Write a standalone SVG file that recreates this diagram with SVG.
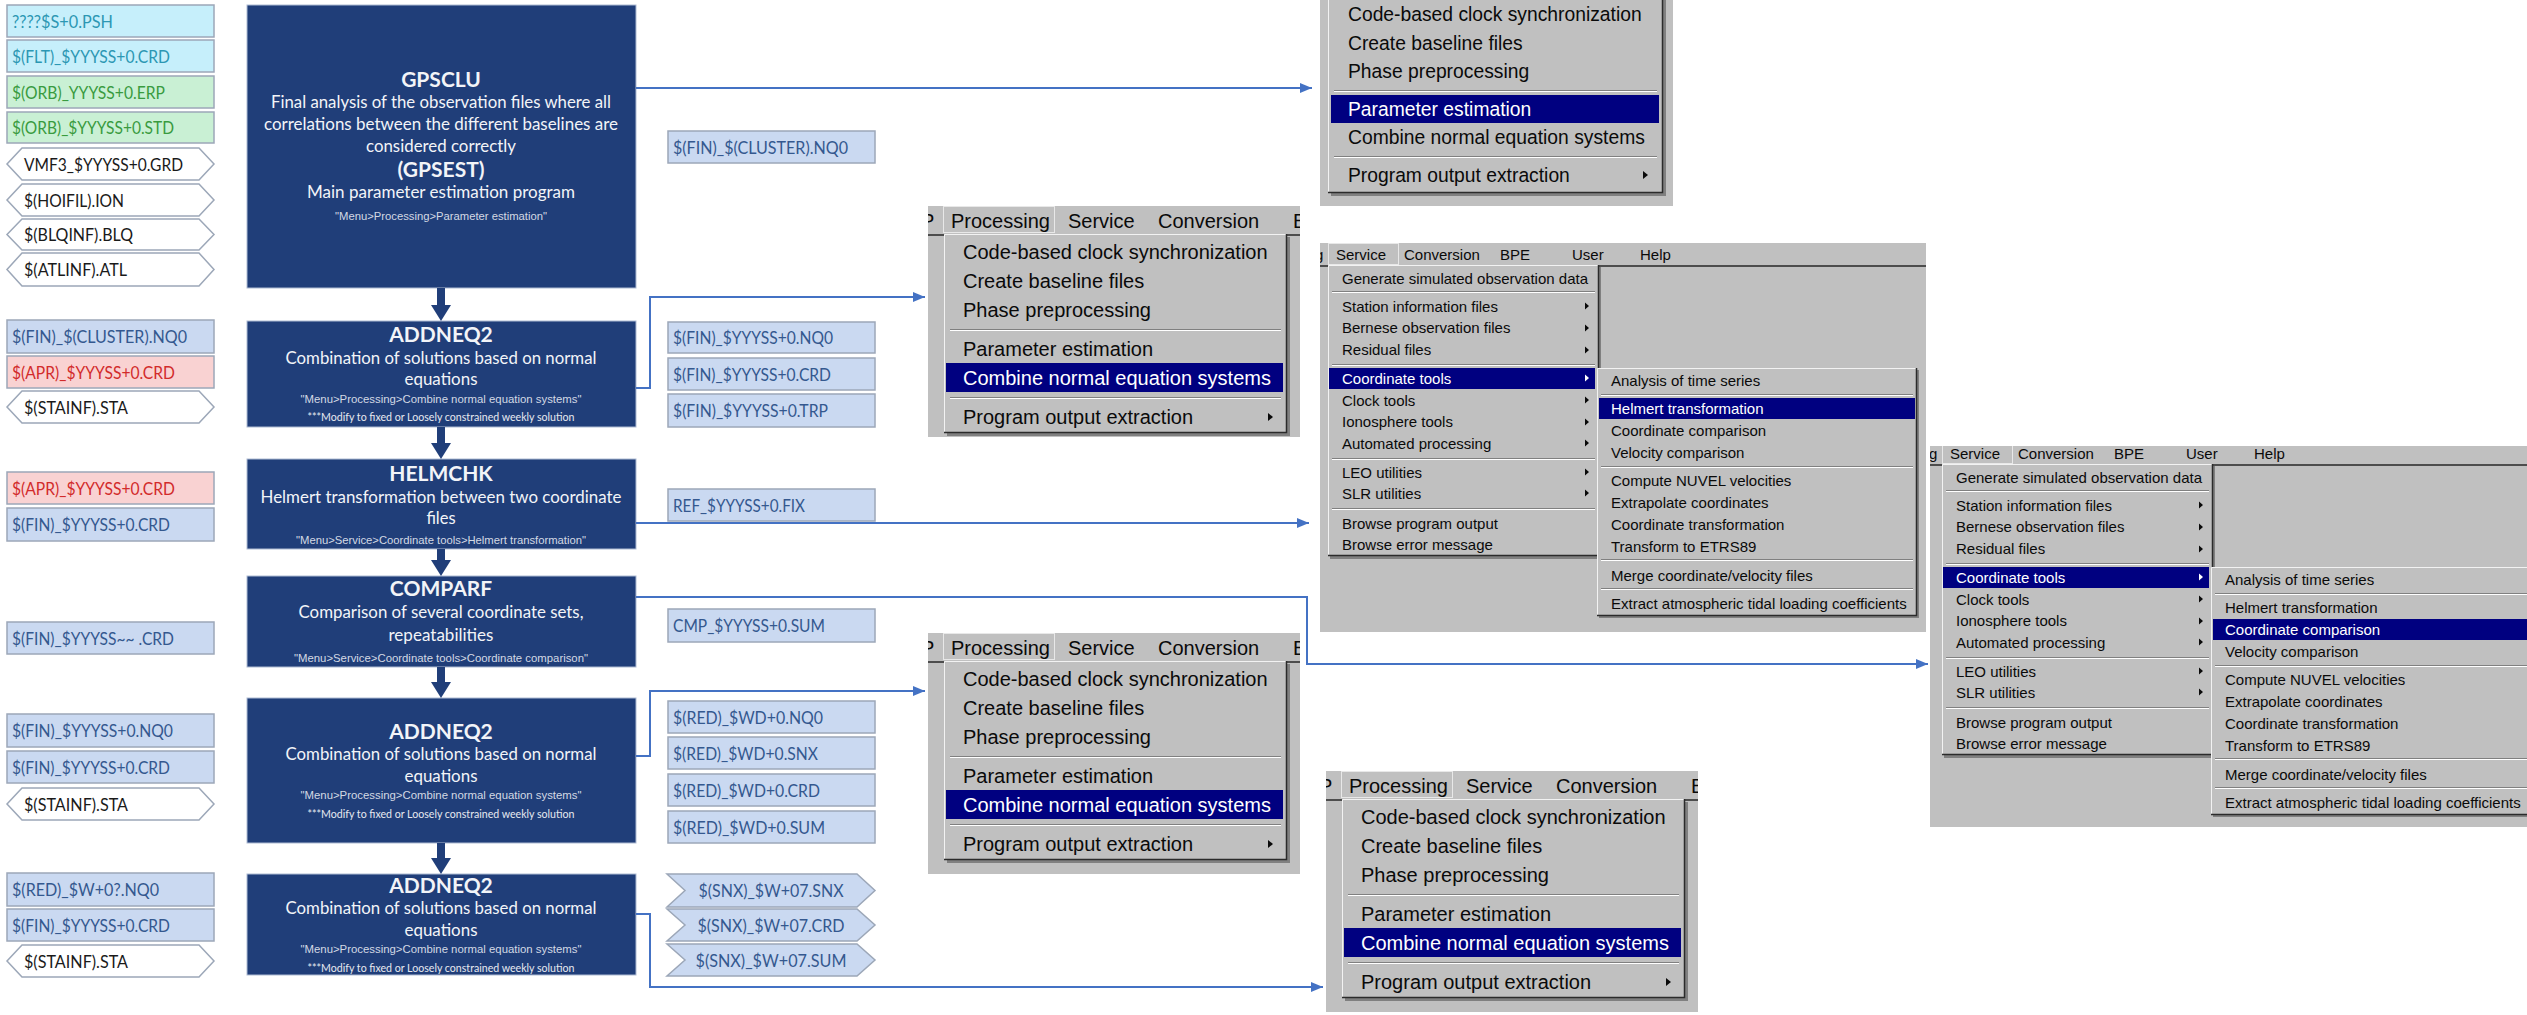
<svg xmlns="http://www.w3.org/2000/svg" width="2527" height="1015" viewBox="0 0 2527 1015">
<defs>
  <style>
    .lbl{font-family:Lato,"Liberation Sans",sans-serif;font-size:18px}
    .fb{stroke:#9CA7B8;stroke-width:1.5}
    .cy{fill:#C6EFFB}.cyt{fill:#2C97B3}
    .gr{fill:#C9F0D4}.grt{fill:#399B3F}
    .pk{fill:#F9D2D2}.pkt{fill:#D22B2B}
    .bl{fill:#CAD9F1}.blt{fill:#34588F}
    .wh{fill:#FFFFFF}.wht{fill:#1A1A1A}
    .step{fill:#203E79;stroke:#AEBBD3;stroke-width:1}
    .stx{font-family:Lato,"Liberation Sans",sans-serif;fill:#F2F4F8;text-anchor:middle}
    .h{font-size:21px;font-weight:700}
    .b{font-size:16.5px}
    .m{font-family:"Liberation Sans",Arial,sans-serif;font-size:11.5px;fill:#D3D9E4}
    .n{font-size:12px;fill:#E6E9F0}
    .flow{fill:#203E79}
    .link{fill:none;stroke:#4472C4;stroke-width:2;marker-end:url(#tip)}
    .mbg{fill:#C0C0C0}
    .mt{font-family:"Liberation Sans",Arial,sans-serif;fill:#0A0A0A}
    .p20{font-size:20px}.p19{font-size:19.3px}.s15{font-size:15px}
    .hi{fill:#000080}
    .wt{fill:#FFFFFF}
    .sd{stroke:#808080;stroke-width:1;fill:none}
    .sl{stroke:#FFFFFF;stroke-width:1;fill:none}
    .lt{stroke:#F2F2F2;stroke-width:1;fill:none}
    .dk{stroke:#2B2B2B;stroke-width:1.5;fill:none}
    .shd{fill:#4A4A4A;opacity:.55}
    .pop{fill:#C0C0C0}
    .tab{fill:none;stroke:#E8E8E8;stroke-width:1}
    .bar{stroke:#4D4D4D;stroke-width:2}
    .ar{fill:#0A0A0A}
    .arw{fill:#FFFFFF}
  </style>
  <marker id="tip" markerUnits="userSpaceOnUse" markerWidth="12" markerHeight="10" refX="12" refY="5" orient="auto">
    <path d="M0 0L12 5L0 10Z" fill="#4472C4"/>
  </marker>
  <clipPath id="clipProc"><rect x="0" y="0" width="372" height="241"/></clipPath>
  <clipPath id="clipProcShort"><rect x="0" y="0" width="372" height="231"/></clipPath>
  <clipPath id="clipSvcA"><rect x="0" y="0" width="606" height="389"/></clipPath>
  <clipPath id="clipSvcB"><rect x="-4" y="4" width="597" height="381"/></clipPath>
  <clipPath id="clipTop"><rect x="1320" y="0" width="353" height="206"/></clipPath>
</defs>

<rect width="2527" height="1015" fill="#FFFFFF"/>

<!-- ===== processing steps ===== -->
<g id="step-gpsclu">
  <rect class="step" x="247" y="5" width="389" height="283"/>
  <text class="stx h" x="441" y="87">GPSCLU</text>
  <text class="stx b" x="441" y="108" textLength="340" lengthAdjust="spacingAndGlyphs">Final analysis of the observation files where all</text>
  <text class="stx b" x="441" y="130" textLength="354" lengthAdjust="spacingAndGlyphs">correlations between the different baselines are</text>
  <text class="stx b" x="441" y="152" textLength="150" lengthAdjust="spacingAndGlyphs">considered correctly</text>
  <text class="stx h" x="441" y="177">(GPSEST)</text>
  <text class="stx b" x="441" y="198" textLength="268" lengthAdjust="spacingAndGlyphs">Main parameter estimation program</text>
  <text class="stx m" x="441" y="220" textLength="212" lengthAdjust="spacingAndGlyphs">"Menu&gt;Processing&gt;Parameter estimation"</text>
</g>

<g id="step-addneq2-cluster">
  <rect class="step" x="247" y="321" width="389" height="106"/>
  <text class="stx h" x="441" y="342">ADDNEQ2</text>
  <text class="stx b" x="441" y="364" textLength="311" lengthAdjust="spacingAndGlyphs">Combination of solutions based on normal</text>
  <text class="stx b" x="441" y="385" textLength="73" lengthAdjust="spacingAndGlyphs">equations</text>
  <text class="stx m" x="441" y="403" textLength="281" lengthAdjust="spacingAndGlyphs">"Menu&gt;Processing&gt;Combine normal equation systems"</text>
  <text class="stx n" x="441" y="421" textLength="267" lengthAdjust="spacingAndGlyphs">***Modify to fixed or Loosely constrained weekly solution</text>
</g>

<g id="step-helmchk">
  <rect class="step" x="247" y="459" width="389" height="90"/>
  <text class="stx h" x="441" y="481">HELMCHK</text>
  <text class="stx b" x="441" y="503" textLength="361" lengthAdjust="spacingAndGlyphs">Helmert transformation between two coordinate</text>
  <text class="stx b" x="441" y="524">files</text>
  <text class="stx m" x="441" y="544" textLength="290" lengthAdjust="spacingAndGlyphs">"Menu&gt;Service&gt;Coordinate tools&gt;Helmert transformation"</text>
</g>

<g id="step-comparf">
  <rect class="step" x="247" y="576" width="389" height="91"/>
  <text class="stx h" x="441" y="596">COMPARF</text>
  <text class="stx b" x="441" y="618" textLength="285" lengthAdjust="spacingAndGlyphs">Comparison of several coordinate sets,</text>
  <text class="stx b" x="441" y="641" textLength="105" lengthAdjust="spacingAndGlyphs">repeatabilities</text>
  <text class="stx m" x="441" y="662" textLength="294" lengthAdjust="spacingAndGlyphs">"Menu&gt;Service&gt;Coordinate tools&gt;Coordinate comparison"</text>
</g>

<g id="step-addneq2-daily">
  <rect class="step" x="247" y="698" width="389" height="145"/>
  <text class="stx h" x="441" y="739">ADDNEQ2</text>
  <text class="stx b" x="441" y="760" textLength="311" lengthAdjust="spacingAndGlyphs">Combination of solutions based on normal</text>
  <text class="stx b" x="441" y="782" textLength="73" lengthAdjust="spacingAndGlyphs">equations</text>
  <text class="stx m" x="441" y="799" textLength="281" lengthAdjust="spacingAndGlyphs">"Menu&gt;Processing&gt;Combine normal equation systems"</text>
  <text class="stx n" x="441" y="818" textLength="267" lengthAdjust="spacingAndGlyphs">***Modify to fixed or Loosely constrained weekly solution</text>
</g>

<g id="step-addneq2-weekly">
  <rect class="step" x="247" y="874" width="389" height="101"/>
  <text class="stx h" x="441" y="893">ADDNEQ2</text>
  <text class="stx b" x="441" y="914" textLength="311" lengthAdjust="spacingAndGlyphs">Combination of solutions based on normal</text>
  <text class="stx b" x="441" y="936" textLength="73" lengthAdjust="spacingAndGlyphs">equations</text>
  <text class="stx m" x="441" y="953" textLength="281" lengthAdjust="spacingAndGlyphs">"Menu&gt;Processing&gt;Combine normal equation systems"</text>
  <text class="stx n" x="441" y="972" textLength="267" lengthAdjust="spacingAndGlyphs">***Modify to fixed or Loosely constrained weekly solution</text>
</g>

<!-- ===== input files ===== -->
<g id="in-psh"><rect class="fb cy" x="7" y="5" width="207" height="32"/><text class="lbl cyt" x="12" y="27.5" textLength="101" lengthAdjust="spacingAndGlyphs">????$S+0.PSH</text></g>
<g id="in-flt-crd"><rect class="fb cy" x="7" y="40" width="207" height="32"/><text class="lbl cyt" x="12" y="62.5" textLength="158" lengthAdjust="spacingAndGlyphs">$(FLT)_$YYYSS+0.CRD</text></g>
<g id="in-orb-erp"><rect class="fb gr" x="7" y="76" width="207" height="32"/><text class="lbl grt" x="12" y="98.5" textLength="153" lengthAdjust="spacingAndGlyphs">$(ORB)_YYYSS+0.ERP</text></g>
<g id="in-orb-std"><rect class="fb gr" x="7" y="112" width="207" height="31"/><text class="lbl grt" x="12" y="134" textLength="162" lengthAdjust="spacingAndGlyphs">$(ORB)_$YYYSS+0.STD</text></g>
<g id="in-vmf3"><path class="fb wh" d="M7 164L22 148H199L214 164L199 180H22Z"/><text class="lbl wht" x="24" y="170.5" textLength="159" lengthAdjust="spacingAndGlyphs">VMF3_$YYYSS+0.GRD</text></g>
<g id="in-ion"><path class="fb wh" d="M7 200L22 184H199L214 200L199 216H22Z"/><text class="lbl wht" x="24" y="206.5" textLength="100" lengthAdjust="spacingAndGlyphs">$(HOIFIL).ION</text></g>
<g id="in-blq"><path class="fb wh" d="M7 234.5L22 219H199L214 234.5L199 250H22Z"/><text class="lbl wht" x="24" y="241" textLength="109" lengthAdjust="spacingAndGlyphs">$(BLQINF).BLQ</text></g>
<g id="in-atl"><path class="fb wh" d="M7 269.5L22 253H199L214 269.5L199 286H22Z"/><text class="lbl wht" x="24" y="276" textLength="103" lengthAdjust="spacingAndGlyphs">$(ATLINF).ATL</text></g>

<g id="in-fin-cluster-nq0"><rect class="fb bl" x="7" y="320" width="207" height="33"/><text class="lbl blt" x="12" y="343" textLength="175" lengthAdjust="spacingAndGlyphs">$(FIN)_$(CLUSTER).NQ0</text></g>
<g id="in-apr-crd-1"><rect class="fb pk" x="7" y="356" width="207" height="32"/><text class="lbl pkt" x="12" y="378.5" textLength="163" lengthAdjust="spacingAndGlyphs">$(APR)_$YYYSS+0.CRD</text></g>
<g id="in-stainf-1"><path class="fb wh" d="M7 407L22 391H199L214 407L199 423H22Z"/><text class="lbl wht" x="24" y="413.5" textLength="104" lengthAdjust="spacingAndGlyphs">$(STAINF).STA</text></g>

<g id="in-apr-crd-2"><rect class="fb pk" x="7" y="472" width="207" height="32"/><text class="lbl pkt" x="12" y="494.5" textLength="163" lengthAdjust="spacingAndGlyphs">$(APR)_$YYYSS+0.CRD</text></g>
<g id="in-fin-crd-1"><rect class="fb bl" x="7" y="508" width="207" height="33"/><text class="lbl blt" x="12" y="531" textLength="158" lengthAdjust="spacingAndGlyphs">$(FIN)_$YYYSS+0.CRD</text></g>

<g id="in-fin-crd-series"><rect class="fb bl" x="7" y="622" width="207" height="32"/><text class="lbl blt" x="12" y="644.5" textLength="162" lengthAdjust="spacingAndGlyphs">$(FIN)_$YYYSS~~ .CRD</text></g>

<g id="in-fin-nq0"><rect class="fb bl" x="7" y="714" width="207" height="33"/><text class="lbl blt" x="12" y="737" textLength="161" lengthAdjust="spacingAndGlyphs">$(FIN)_$YYYSS+0.NQ0</text></g>
<g id="in-fin-crd-2"><rect class="fb bl" x="7" y="751" width="207" height="32"/><text class="lbl blt" x="12" y="773.5" textLength="158" lengthAdjust="spacingAndGlyphs">$(FIN)_$YYYSS+0.CRD</text></g>
<g id="in-stainf-2"><path class="fb wh" d="M7 804L22 788H199L214 804L199 820H22Z"/><text class="lbl wht" x="24" y="810.5" textLength="104" lengthAdjust="spacingAndGlyphs">$(STAINF).STA</text></g>

<g id="in-red-nq0"><rect class="fb bl" x="7" y="873" width="207" height="33"/><text class="lbl blt" x="12" y="896" textLength="147" lengthAdjust="spacingAndGlyphs">$(RED)_$W+0?.NQ0</text></g>
<g id="in-fin-crd-3"><rect class="fb bl" x="7" y="909" width="207" height="32"/><text class="lbl blt" x="12" y="931.5" textLength="158" lengthAdjust="spacingAndGlyphs">$(FIN)_$YYYSS+0.CRD</text></g>
<g id="in-stainf-3"><path class="fb wh" d="M7 961L22 945H199L214 961L199 977H22Z"/><text class="lbl wht" x="24" y="967.5" textLength="104" lengthAdjust="spacingAndGlyphs">$(STAINF).STA</text></g>

<!-- ===== output files ===== -->
<g id="out-fin-cluster-nq0"><rect class="fb bl" x="668" y="131" width="207" height="32"/><text class="lbl blt" x="673" y="153.5" textLength="175" lengthAdjust="spacingAndGlyphs">$(FIN)_$(CLUSTER).NQ0</text></g>
<g id="out-fin-nq0"><rect class="fb bl" x="668" y="322" width="207" height="31"/><text class="lbl blt" x="673" y="344" textLength="160" lengthAdjust="spacingAndGlyphs">$(FIN)_$YYYSS+0.NQ0</text></g>
<g id="out-fin-crd"><rect class="fb bl" x="668" y="358" width="207" height="32"/><text class="lbl blt" x="673" y="380.5" textLength="158" lengthAdjust="spacingAndGlyphs">$(FIN)_$YYYSS+0.CRD</text></g>
<g id="out-fin-trp"><rect class="fb bl" x="668" y="394" width="207" height="33"/><text class="lbl blt" x="673" y="417" textLength="155" lengthAdjust="spacingAndGlyphs">$(FIN)_$YYYSS+0.TRP</text></g>
<g id="out-ref-fix"><rect class="fb bl" x="668" y="489" width="207" height="32"/><text class="lbl blt" x="673" y="511.5" textLength="132" lengthAdjust="spacingAndGlyphs">REF_$YYYSS+0.FIX</text></g>
<g id="out-cmp-sum"><rect class="fb bl" x="668" y="609" width="207" height="33"/><text class="lbl blt" x="673" y="632" textLength="152" lengthAdjust="spacingAndGlyphs">CMP_$YYYSS+0.SUM</text></g>
<g id="out-red-nq0"><rect class="fb bl" x="668" y="701" width="207" height="32"/><text class="lbl blt" x="673" y="723.5" textLength="150" lengthAdjust="spacingAndGlyphs">$(RED)_$WD+0.NQ0</text></g>
<g id="out-red-snx"><rect class="fb bl" x="668" y="737" width="207" height="32"/><text class="lbl blt" x="673" y="759.5" textLength="145" lengthAdjust="spacingAndGlyphs">$(RED)_$WD+0.SNX</text></g>
<g id="out-red-crd"><rect class="fb bl" x="668" y="774" width="207" height="32"/><text class="lbl blt" x="673" y="796.5" textLength="147" lengthAdjust="spacingAndGlyphs">$(RED)_$WD+0.CRD</text></g>
<g id="out-red-sum"><rect class="fb bl" x="668" y="811" width="207" height="32"/><text class="lbl blt" x="673" y="833.5" textLength="152" lengthAdjust="spacingAndGlyphs">$(RED)_$WD+0.SUM</text></g>
<g id="out-snx-snx"><path class="fb bl" d="M667 874H857L875 890.5L857 907H667L685 890.5Z"/><text class="lbl blt" x="771" y="897" text-anchor="middle" textLength="145" lengthAdjust="spacingAndGlyphs">$(SNX)_$W+07.SNX</text></g>
<g id="out-snx-crd"><path class="fb bl" d="M667 909H857L875 925L857 941H667L685 925Z"/><text class="lbl blt" x="771" y="931.5" text-anchor="middle" textLength="147" lengthAdjust="spacingAndGlyphs">$(SNX)_$W+07.CRD</text></g>
<g id="out-snx-sum"><path class="fb bl" d="M667 944H857L875 960L857 976H667L685 960Z"/><text class="lbl blt" x="771" y="966.5" text-anchor="middle" textLength="151" lengthAdjust="spacingAndGlyphs">$(SNX)_$W+07.SUM</text></g>

<!-- ===== menu screenshots ===== -->
<g id="menu-parameter-estimation" clip-path="url(#clipTop)">
  <rect class="mbg" x="1320" y="0" width="353" height="206"/>
  <rect class="shd" x="1331" y="0" width="335" height="196"/>
  <rect class="pop" x="1328" y="-2" width="335" height="195"/>
  <path class="lt" d="M1328.5 192V0"/>
  <path class="dk" d="M1328 192.5H1662.5V0"/>
  <path class="sd" d="M1334 90.5H1657M1334 156.5H1657"/>
  <path class="sl" d="M1334 91.5H1657M1334 157.5H1657"/>
  <rect class="hi" x="1331" y="95" width="328" height="28"/>
  <g class="mt p19">
    <text x="1348" y="21">Code-based clock synchronization</text>
    <text x="1348" y="50">Create baseline files</text>
    <text x="1348" y="78">Phase preprocessing</text>
    <text class="wt" x="1348" y="116">Parameter estimation</text>
    <text x="1348" y="144">Combine normal equation systems</text>
    <text x="1348" y="182">Program output extraction</text>
  </g>
  <path class="ar" d="M1643 171L1648 175L1643 179Z"/>
</g>

<g id="menu-combine-1" transform="translate(928,206)" clip-path="url(#clipProcShort)">
  <rect class="mbg" width="372" height="241"/>
  <g class="mt p20">
    <text x="-7" y="22">P</text>
    <text x="23" y="22">Processing</text>
    <text x="140" y="22">Service</text>
    <text x="230" y="22">Conversion</text>
    <text x="365" y="22">B</text>
  </g>
  <rect class="tab" x="15.5" y="0.5" width="111" height="26"/>
  <line class="bar" x1="0" y1="29" x2="372" y2="29"/>
  <rect class="shd" x="19" y="31" width="343" height="199"/>
  <rect class="pop" x="16" y="28" width="343" height="199"/>
  <path class="lt" d="M16.5 226V28.5H358"/>
  <path class="dk" d="M16 226.5H358.5V28"/>
  <path class="sd" d="M22 123.5H353M22 191.5H353"/>
  <path class="sl" d="M22 124.5H353M22 192.5H353"/>
  <rect class="hi" x="18" y="157" width="337" height="29"/>
  <g class="mt p20">
    <text x="35" y="53">Code-based clock synchronization</text>
    <text x="35" y="82">Create baseline files</text>
    <text x="35" y="111">Phase preprocessing</text>
    <text x="35" y="150">Parameter estimation</text>
    <text class="wt" x="35" y="179">Combine normal equation systems</text>
    <text x="35" y="218">Program output extraction</text>
  </g>
  <path class="ar" d="M340 207L345 211L340 215Z"/>
</g>

<g id="menu-combine-2" transform="translate(928,633)" clip-path="url(#clipProc)">
  <rect class="mbg" width="372" height="241"/>
  <g class="mt p20">
    <text x="-7" y="22">P</text>
    <text x="23" y="22">Processing</text>
    <text x="140" y="22">Service</text>
    <text x="230" y="22">Conversion</text>
    <text x="365" y="22">B</text>
  </g>
  <rect class="tab" x="15.5" y="0.5" width="111" height="26"/>
  <line class="bar" x1="0" y1="29" x2="372" y2="29"/>
  <rect class="shd" x="19" y="31" width="343" height="199"/>
  <rect class="pop" x="16" y="28" width="343" height="199"/>
  <path class="lt" d="M16.5 226V28.5H358"/>
  <path class="dk" d="M16 226.5H358.5V28"/>
  <path class="sd" d="M22 123.5H353M22 191.5H353"/>
  <path class="sl" d="M22 124.5H353M22 192.5H353"/>
  <rect class="hi" x="18" y="157" width="337" height="29"/>
  <g class="mt p20">
    <text x="35" y="53">Code-based clock synchronization</text>
    <text x="35" y="82">Create baseline files</text>
    <text x="35" y="111">Phase preprocessing</text>
    <text x="35" y="150">Parameter estimation</text>
    <text class="wt" x="35" y="179">Combine normal equation systems</text>
    <text x="35" y="218">Program output extraction</text>
  </g>
  <path class="ar" d="M340 207L345 211L340 215Z"/>
</g>

<g id="menu-combine-3" transform="translate(1326,771)" clip-path="url(#clipProc)">
  <rect class="mbg" width="372" height="241"/>
  <g class="mt p20">
    <text x="-7" y="22">P</text>
    <text x="23" y="22">Processing</text>
    <text x="140" y="22">Service</text>
    <text x="230" y="22">Conversion</text>
    <text x="365" y="22">B</text>
  </g>
  <rect class="tab" x="15.5" y="0.5" width="111" height="26"/>
  <line class="bar" x1="0" y1="29" x2="372" y2="29"/>
  <rect class="shd" x="19" y="31" width="343" height="199"/>
  <rect class="pop" x="16" y="28" width="343" height="199"/>
  <path class="lt" d="M16.5 226V28.5H358"/>
  <path class="dk" d="M16 226.5H358.5V28"/>
  <path class="sd" d="M22 123.5H353M22 191.5H353"/>
  <path class="sl" d="M22 124.5H353M22 192.5H353"/>
  <rect class="hi" x="18" y="157" width="337" height="29"/>
  <g class="mt p20">
    <text x="35" y="53">Code-based clock synchronization</text>
    <text x="35" y="82">Create baseline files</text>
    <text x="35" y="111">Phase preprocessing</text>
    <text x="35" y="150">Parameter estimation</text>
    <text class="wt" x="35" y="179">Combine normal equation systems</text>
    <text x="35" y="218">Program output extraction</text>
  </g>
  <path class="ar" d="M340 207L345 211L340 215Z"/>
</g>

<g id="menu-helmert" transform="translate(1320,243)" clip-path="url(#clipSvcA)">
  <rect class="mbg" width="606" height="389"/>
  <g class="mt s15">
    <text x="-5" y="16.5">g</text>
    <text x="16" y="16.5">Service</text>
    <text x="84" y="16.5">Conversion</text>
    <text x="180" y="16.5">BPE</text>
    <text x="252" y="16.5">User</text>
    <text x="320" y="16.5">Help</text>
  </g>
  <rect class="tab" x="8.5" y="0.5" width="70" height="21"/>
  <line class="bar" x1="0" y1="23" x2="606" y2="23"/>
  <rect class="shd" x="10" y="24" width="271" height="292"/>
  <rect class="pop" x="8" y="22" width="271" height="291"/>
  <path class="lt" d="M8.5 312V22.5H278"/>
  <path class="dk" d="M8 312.5H278.5V22"/>
  <path class="sd" d="M12 48.5H275M12 121.5H275M12 215.5H275M12 265.5H275"/>
  <path class="sl" d="M12 49.5H275M12 122.5H275M12 216.5H275M12 266.5H275"/>
  <rect class="hi" x="9" y="125" width="266" height="21"/>
  <g class="mt s15">
    <text x="22" y="40.5">Generate simulated observation data</text>
    <text x="22" y="68.5">Station information files</text>
    <text x="22" y="90">Bernese observation files</text>
    <text x="22" y="112">Residual files</text>
    <text class="wt" x="22" y="140.5">Coordinate tools</text>
    <text x="22" y="162.5">Clock tools</text>
    <text x="22" y="184">Ionosphere tools</text>
    <text x="22" y="205.5">Automated processing</text>
    <text x="22" y="234.5">LEO utilities</text>
    <text x="22" y="255.5">SLR utilities</text>
    <text x="22" y="285.5">Browse program output</text>
    <text x="22" y="306.5">Browse error message</text>
  </g>
  <path class="ar" d="M265 59.5L269 63L265 66.5ZM265 81.5L269 85L265 88.5ZM265 103.5L269 107L265 110.5ZM265 153.5L269 157L265 160.5ZM265 175.5L269 179L265 182.5ZM265 196.5L269 200L265 203.5ZM265 225.5L269 229L265 232.5ZM265 246.5L269 250L265 253.5Z"/>
  <path class="arw" d="M265 131.5L269 135L265 138.5Z"/>
  <rect class="shd" x="279" y="127" width="320" height="248"/>
  <rect class="pop" x="277" y="125" width="320" height="248"/>
  <path class="lt" d="M277.5 372V125.5H596"/>
  <path class="dk" d="M277 372.5H596.5V125"/>
  <path class="sd" d="M281 151.5H593M281 223.5H593M281 316.5H593M281 345.5H593"/>
  <path class="sl" d="M281 152.5H593M281 224.5H593M281 317.5H593M281 346.5H593"/>
  <rect class="hi" x="279" y="155" width="316" height="21"/>
  <g class="mt s15">
    <text x="291" y="142.5">Analysis of time series</text>
    <text class="wt" x="291" y="170.5">Helmert transformation</text>
    <text x="291" y="192.5">Coordinate comparison</text>
    <text x="291" y="214.5">Velocity comparison</text>
    <text x="291" y="242.5">Compute NUVEL velocities</text>
    <text x="291" y="264.5">Extrapolate coordinates</text>
    <text x="291" y="286.5">Coordinate transformation</text>
    <text x="291" y="308.5">Transform to ETRS89</text>
    <text x="291" y="337.5">Merge coordinate/velocity files</text>
    <text x="291" y="365.5">Extract atmospheric tidal loading coefficients</text>
  </g>
</g>

<g id="menu-coordinate-comparison" transform="translate(1934,442)" clip-path="url(#clipSvcB)">
  <rect class="mbg" x="-4" y="4" width="597" height="381"/>
  <g class="mt s15">
    <text x="-5" y="16.5">g</text>
    <text x="16" y="16.5">Service</text>
    <text x="84" y="16.5">Conversion</text>
    <text x="180" y="16.5">BPE</text>
    <text x="252" y="16.5">User</text>
    <text x="320" y="16.5">Help</text>
  </g>
  <rect class="tab" x="8.5" y="0.5" width="70" height="21"/>
  <line class="bar" x1="-4" y1="23" x2="606" y2="23"/>
  <rect class="shd" x="10" y="24" width="271" height="292"/>
  <rect class="pop" x="8" y="22" width="271" height="291"/>
  <path class="lt" d="M8.5 312V22.5H278"/>
  <path class="dk" d="M8 312.5H278.5V22"/>
  <path class="sd" d="M12 48.5H275M12 121.5H275M12 215.5H275M12 265.5H275"/>
  <path class="sl" d="M12 49.5H275M12 122.5H275M12 216.5H275M12 266.5H275"/>
  <rect class="hi" x="9" y="125" width="266" height="21"/>
  <g class="mt s15">
    <text x="22" y="40.5">Generate simulated observation data</text>
    <text x="22" y="68.5">Station information files</text>
    <text x="22" y="90">Bernese observation files</text>
    <text x="22" y="112">Residual files</text>
    <text class="wt" x="22" y="140.5">Coordinate tools</text>
    <text x="22" y="162.5">Clock tools</text>
    <text x="22" y="184">Ionosphere tools</text>
    <text x="22" y="205.5">Automated processing</text>
    <text x="22" y="234.5">LEO utilities</text>
    <text x="22" y="255.5">SLR utilities</text>
    <text x="22" y="285.5">Browse program output</text>
    <text x="22" y="306.5">Browse error message</text>
  </g>
  <path class="ar" d="M265 59.5L269 63L265 66.5ZM265 81.5L269 85L265 88.5ZM265 103.5L269 107L265 110.5ZM265 153.5L269 157L265 160.5ZM265 175.5L269 179L265 182.5ZM265 196.5L269 200L265 203.5ZM265 225.5L269 229L265 232.5ZM265 246.5L269 250L265 253.5Z"/>
  <path class="arw" d="M265 131.5L269 135L265 138.5Z"/>
  <rect class="shd" x="279" y="127" width="320" height="248"/>
  <rect class="pop" x="277" y="125" width="320" height="248"/>
  <path class="lt" d="M277.5 372V125.5H596"/>
  <path class="dk" d="M277 372.5H596.5V125"/>
  <path class="sd" d="M281 151.5H593M281 223.5H593M281 316.5H593M281 345.5H593"/>
  <path class="sl" d="M281 152.5H593M281 224.5H593M281 317.5H593M281 346.5H593"/>
  <rect class="hi" x="279" y="177" width="316" height="21"/>
  <g class="mt s15">
    <text x="291" y="142.5">Analysis of time series</text>
    <text x="291" y="170.5">Helmert transformation</text>
    <text class="wt" x="291" y="192.5">Coordinate comparison</text>
    <text x="291" y="214.5">Velocity comparison</text>
    <text x="291" y="242.5">Compute NUVEL velocities</text>
    <text x="291" y="264.5">Extrapolate coordinates</text>
    <text x="291" y="286.5">Coordinate transformation</text>
    <text x="291" y="308.5">Transform to ETRS89</text>
    <text x="291" y="337.5">Merge coordinate/velocity files</text>
    <text x="291" y="365.5">Extract atmospheric tidal loading coefficients</text>
  </g>
</g>

<!-- ===== connectors ===== -->
<g id="connectors">
  <path class="flow" d="M437 288H445V305H451L441 321L431 305H437Z"/>
  <path class="flow" d="M437 427H445V443H451L441 459L431 443H437Z"/>
  <path class="flow" d="M437 549H445V560H451L441 576L431 560H437Z"/>
  <path class="flow" d="M437 667H445V682H451L441 698L431 682H437Z"/>
  <path class="flow" d="M437 843H445V858H451L441 874L431 858H437Z"/>
  <path class="link" d="M636 88H1312"/>
  <path class="link" d="M636 388H650V297H925"/>
  <path class="link" d="M636 523H1309"/>
  <path class="link" d="M636 597H1307V664H1928"/>
  <path class="link" d="M636 756H650V691H925"/>
  <path class="link" d="M636 914H650V987H1323"/>
</g>
</svg>
